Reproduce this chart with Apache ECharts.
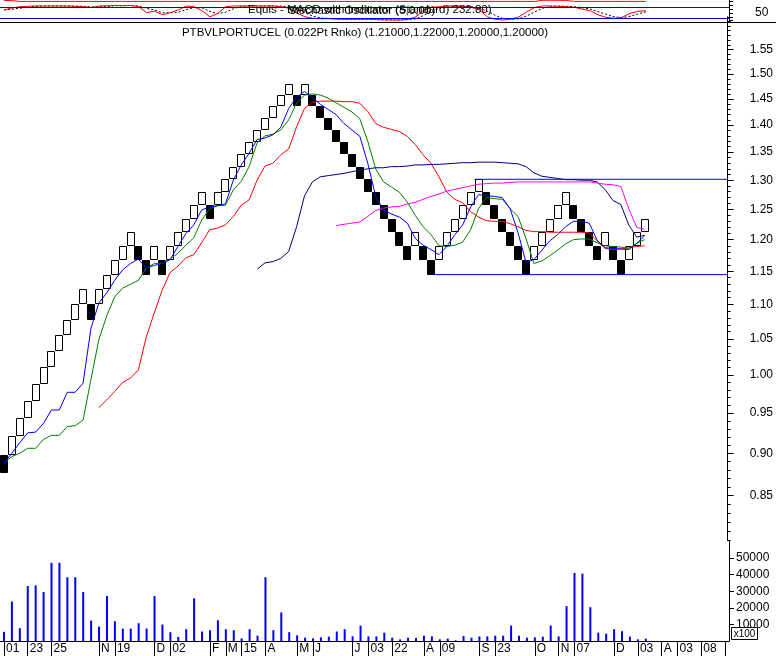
<!DOCTYPE html>
<html><head><meta charset="utf-8">
<script src="https://cdn.jsdelivr.net/npm/echarts@6/dist/echarts.min.js"></script>
<style>html,body{margin:0;padding:0;background:#fff}#c{width:776px;height:656px}</style>
</head><body><div id="c"></div>
<script>
// ---------- data ----------
const brickSize = 0.0224;
const brickLow = [0.876,0.8984,0.9208,0.9432,0.9656,0.988,1.0104,1.0328,1.0552,1.0776,
  1.1,1.0776,1.1,1.1224,1.1448,1.1672,1.1896,1.1672,1.1448,1.1672,
  1.1448,1.1672,1.1896,1.212,1.2344,1.2568,1.2344,1.2568,1.2792,1.3016,
  1.324,1.3464,1.3688,1.3912,1.4136,1.436,1.4584,1.436,1.4584,1.436,
  1.4136,1.3912,1.3688,1.3464,1.324,1.3016,1.2792,1.2568,1.2344,1.212,
  1.1896,1.1672,1.1896,1.1672,1.1448,1.1672,1.1896,1.212,1.2344,1.2568,
  1.2792,1.2568,1.2344,1.212,1.1896,1.1672,1.1448,1.1672,1.1896,1.212,
  1.2344,1.2568,1.2344,1.212,1.1896,1.1672,1.1896,1.1672,1.1448,1.1672,
  1.1896,1.212];
const brickDir = [-1,1,1,1,1,1,1,1,1,1,
  1,-1,1,1,1,1,1,-1,-1,1,
  -1,1,1,1,1,1,-1,1,1,1,
  1,1,1,1,1,1,1,-1,1,-1,
  -1,-1,-1,-1,-1,-1,-1,-1,-1,-1,
  -1,-1,1,-1,-1,1,1,1,1,1,
  1,-1,-1,-1,-1,-1,-1,1,1,1,
  1,1,-1,-1,-1,-1,1,-1,-1,1,
  1,1];
const maBlue = [0.888,0.900,0.913,0.925,0.926,0.937,0.954,0.954,0.977,0.977,
  0.989,1.065,1.102,1.117,1.136,1.152,1.162,1.169,1.155,1.159,
  1.162,1.168,1.189,1.210,1.224,1.249,1.254,1.256,1.259,1.300,
  1.327,1.348,1.373,1.376,1.382,1.396,1.432,1.454,1.465,1.453,
  1.440,1.430,1.420,1.403,1.391,1.379,1.330,1.272,1.249,1.242,
  1.237,1.227,1.202,1.191,1.184,1.176,1.189,1.208,1.224,1.254,
  1.275,1.273,1.272,1.270,1.251,1.211,1.164,1.168,1.183,1.198,
  1.208,1.221,1.230,1.230,1.227,1.199,1.187,1.186,1.185,1.184,
  1.194,1.206];
const maGreen = [0.888,0.896,0.900,0.906,0.906,0.917,0.922,0.922,0.933,0.934,
  0.941,0.994,1.049,1.083,1.111,1.124,1.130,1.136,1.155,1.162,
  1.162,1.169,1.178,1.191,1.203,1.232,1.251,1.256,1.257,1.283,
  1.298,1.324,1.367,1.380,1.383,1.391,1.410,1.442,1.458,1.460,
  1.458,1.452,1.443,1.434,1.425,1.412,1.370,1.320,1.297,1.288,
  1.279,1.262,1.240,1.221,1.208,1.190,1.189,1.191,1.196,1.216,
  1.251,1.270,1.268,1.267,1.251,1.238,1.202,1.162,1.166,1.174,
  1.183,1.193,1.200,1.201,1.201,1.195,1.190,1.189,1.188,1.186,
  1.194,1.200];
const maRed = [null,null,null,null,null,null,null,null,null,null,null,null,
  0.957,0.967,0.978,0.990,0.996,1.007,1.053,1.087,
  1.121,1.148,1.158,1.171,1.176,1.195,1.216,1.219,1.224,1.238,
  1.257,1.266,1.300,1.325,1.330,1.345,1.356,1.397,1.432,1.444,
  1.446,1.446,1.446,1.445,1.445,1.442,1.426,1.403,1.396,1.392,
  1.388,1.379,1.364,1.345,1.330,1.306,1.279,1.267,1.261,1.246,
  1.237,1.231,1.230,1.230,1.226,1.221,1.215,1.213,1.213,1.212,
  1.212,1.212,1.212,1.212,1.211,1.198,1.186,1.184,1.185,1.187,
  1.189,1.190];
const maNavy = [null,null,null,null,null,null,null,null,null,null,
  null,null,null,null,null,null,null,null,null,null,
  null,null,null,null,null,null,null,null,null,null,null,null,
  1.153,1.163,1.165,1.170,1.181,1.221,1.273,1.297,
  1.306,1.308,1.310,1.312,1.315,1.318,1.320,1.322,1.322,1.324,
  1.324,1.325,1.327,1.327,1.328,1.328,1.329,1.330,1.331,1.331,
  1.332,1.332,1.332,1.331,1.330,1.329,1.324,1.313,1.307,1.305,
  1.303,1.301,1.301,1.300,1.300,1.297,1.284,1.265,1.258,1.224,
  1.204,1.207];
const maMagenta = [null,null,null,null,null,null,null,null,null,null,
  null,null,null,null,null,null,null,null,null,null,
  null,null,null,null,null,null,null,null,null,null,
  null,null,null,null,null,null,null,null,null,null,null,null,
  1.223,1.225,1.227,1.229,1.238,1.248,1.252,1.254,
  1.255,1.259,1.262,1.267,1.272,1.276,1.281,1.284,1.287,1.290,
  1.293,1.294,1.295,1.295,1.296,1.297,1.297,1.297,1.297,1.297,
  1.297,1.297,1.297,1.297,1.297,1.295,1.293,1.292,1.289,1.251,
  1.220,1.217];
const resistance = [[59.5, 1.3016], [91.5, 1.3016]];
const support = [[54.4, 1.1448], [91.5, 1.1448]];
const volume = [5500,23800,7700,33100,33500,29500,47100,47100,38400,38400,
  29500,12300,8700,27100,11900,7500,7500,10700,7500,27100,
  9900,5300,2400,7100,25700,5700,6500,12500,7100,6500,
  1600,7100,3200,38400,6500,17200,5300,3400,2000,1600,
  2200,2600,5700,7100,2800,9300,2800,2800,5000,2000,
  1000,2000,1800,3200,2800,1000,1400,400,3000,2000,
  2800,2800,3200,3200,9300,3200,2000,2200,2600,9300,
  2800,21000,41000,40600,20400,5000,4400,7100,5900,2600,
  1000,1400];
const stochK = [66,76,83,85,87,87,87,87,87,85,
  83,78,87,88,90,88,90,83,52,60,
  41,52,66,87,83,62,30,48,83,87,
  87,87,87,87,87,83,74,48,30,22,
  20,20,18,17,17,17,17,15,13,13,
  13,17,30,66,80,83,87,87,83,80,
  66,30,17,13,17,30,57,80,87,87,
  85,83,80,70,62,40,27,22,27,48,
  59,62];
const stochD = [66,70,75,81,85,86,87,87,87,86,
  85,82,83,84,88,89,89,87,75,65,
  51,51,53,68,79,77,58,47,54,73,
  86,87,87,87,87,86,81,68,51,33,
  24,21,19,18,17,17,17,16,15,14,
  13,14,20,38,59,76,83,86,86,83,
  76,59,38,20,16,20,35,56,75,85,
  86,85,83,78,71,57,43,30,25,32,
  45,56];
const macdTop = [116,115,111,111,111,111,111,111,111,111,
  111,111,111,111,111,111,111,111,111,111,
  111,111,111,111,111,111,111,111,111,111,
  111,111,111,111,111,111,111,111,111,111,
  111,111,111,111,111,111,111,111,111,111,
  111,111,111,111,111,111,111,111,111,111,
  111,111,111,111,111,111,111,111,117,117,
  117,116,111,111,111,111,111,111,111,111,
  111,111];
const stochLevels = [20, 80];
const priceTickLabels = [0.85,0.90,0.95,1.00,1.05,1.10,1.15,1.20,1.25,1.30,1.35,1.40,1.45,1.50,1.55];
const volTickLabels = [10000,20000,30000,40000,50000];
const dateTickCols = [0,3,6,12,14,19,21,26,28,30,33,37,39,44,46,49,53,55,60,62,67,70,72,77,80,83,85,88];
const dateLabels = ['01','23','25','N','19','D','02','F','M','15','A','M','J','J','03','22','A','09','S','23','O','N','07','D','03','A','03','08'];
const titleText = 'PTBVLPORTUCEL (0.022Pt Rnko) (1.21000,1.22000,1.20000,1.20000)';
const overlayText1 = 'Equis - MACD with Indicator (Standard) 232.80)';
const overlayText2 = 'Stochastic Oscillator (5,0,00)';

// ---------- chart ----------
const minorTicks = [];
for (let k = 80; k <= 162; k++) minorTicks.push(k / 100);
const pairs = arr => arr.map((v, i) => [i, v]).filter(p => p[1] != null);
const FONT = 'Liberation Sans, Arial, sans-serif';
const XV = { type: 'value', min: -0.5, max: 91.5, show: false, axisLine: { onZero: false } };
const PMIN = 0.8, PMAX = 1.62;

const chart = echarts.init(document.getElementById('c'), null, { renderer: 'canvas', width: 776, height: 656 });
const lineS = (data, color) => ({
  type: 'line', xAxisIndex: 0, yAxisIndex: 0, data: pairs(data), symbol: 'none',
  lineStyle: { color: color, width: 1 }, itemStyle: { color: color }, z: 3, silent: true
});

chart.setOption({
  animation: false,
  backgroundColor: '#ffffff',
  textStyle: { fontFamily: FONT },
  grid: [
    { left: 0, right: 47, top: 16.8, height: 523.9 },
    { left: 0, right: 47, top: 541.4, height: 99.6 },
    { left: 0, right: 47, top: 0, height: 22.5 }
  ],
  xAxis: [
    Object.assign({ gridIndex: 0 }, XV),
    { gridIndex: 1, type: 'value', min: -0.5, max: 91.5, position: 'bottom',
      axisLine: { show: true, onZero: false, lineStyle: { color: '#000', width: 1 } },
      axisTick: { show: true, customValues: dateTickCols.concat([91]), length: 15, inside: false, lineStyle: { color: '#000' } },
      axisLabel: { show: true, customValues: dateTickCols, formatter: v => dateLabels[dateTickCols.indexOf(v)],
        align: 'left', verticalAlign: 'top', margin: 2, padding: [0, 0, 0, 2], color: '#000', fontSize: 12, fontFamily: FONT },
      splitLine: { show: false } },
    Object.assign({ gridIndex: 2 }, XV)
  ],
  yAxis: [
    { gridIndex: 0, type: 'log', logBase: 10, min: PMIN, max: PMAX, position: 'right',
      axisLine: { show: true, onZero: false, lineStyle: { color: '#000', width: 1 } },
      axisTick: { show: true, customValues: priceTickLabels, length: 6, lineStyle: { color: '#000' } },
      axisLabel: { show: true, customValues: priceTickLabels, formatter: v => Number(v).toFixed(2), margin: 22, color: '#000', fontSize: 12, fontFamily: FONT },
      splitLine: { show: false }, minorTick: { show: false } },
    { gridIndex: 0, type: 'log', logBase: 10, min: PMIN, max: PMAX, position: 'right',
      axisLine: { show: false, onZero: false },
      axisTick: { show: true, customValues: minorTicks, length: 3, lineStyle: { color: '#000' } },
      axisLabel: { show: false }, splitLine: { show: false } },
    { gridIndex: 1, type: 'value', min: 0, max: 60000, position: 'right',
      axisLine: { show: true, onZero: false, lineStyle: { color: '#000', width: 1 } },
      axisTick: { show: true, customValues: volTickLabels, length: 5, lineStyle: { color: '#000' } },
      axisLabel: { show: true, customValues: volTickLabels, formatter: v => String(v), margin: 7, color: '#000', fontSize: 12, fontFamily: FONT },
      splitLine: { show: false } },
    { gridIndex: 2, type: 'value', min: 0, max: 118.4, position: 'right',
      axisLine: { show: true, onZero: false, lineStyle: { color: '#000', width: 1 } },
      axisTick: { show: true, customValues: [10, 30, 50, 70, 90, 110], length: 4, lineStyle: { color: '#000' } },
      axisLabel: { show: true, customValues: [50], margin: 26, color: '#000', fontSize: 12, fontFamily: FONT },
      splitLine: { show: false } }
  ],
  series: [
    { type: 'custom', xAxisIndex: 0, yAxisIndex: 0, z: 2, silent: true,
      data: brickLow.map((lo, i) => [i, lo, lo + brickSize, brickDir[i]]),
      renderItem: function (params, api) {
        const i = api.value(0);
        const top = api.coord([i, api.value(2)]);
        const bot = api.coord([i, api.value(1)]);
        const w = api.size([1, 0])[0];
        const x0 = Math.round(top[0] - w / 2);
        const y0 = Math.round(top[1]);
        const y1 = Math.round(bot[1]);
        const black = api.value(3) < 0;
        return { type: 'rect',
          shape: { x: x0 + 0.5, y: y0 + 0.5, width: Math.round(w) - 1, height: y1 - y0 - 1 },
          style: { fill: black ? '#000' : '#fff', stroke: '#000', lineWidth: 1 } };
      } },
    lineS(maRed, '#ff0000'),
    lineS(maGreen, '#008000'),
    lineS(maNavy, '#000080'),
    lineS(maMagenta, '#ff00ff'),
    lineS(maBlue, '#0000ff'),
    { type: 'line', xAxisIndex: 0, yAxisIndex: 0, data: resistance, symbol: 'none', lineStyle: { color: '#0000ff', width: 1 }, z: 3, silent: true },
    { type: 'line', xAxisIndex: 0, yAxisIndex: 0, data: support, symbol: 'none', lineStyle: { color: '#0000ff', width: 1 }, z: 3, silent: true },
    { type: 'bar', xAxisIndex: 1, yAxisIndex: 2, data: pairs(volume), barWidth: 2, itemStyle: { color: '#0000ff' }, silent: true },
    { type: 'line', xAxisIndex: 2, yAxisIndex: 3, data: pairs(macdTop), symbol: 'none', lineStyle: { color: '#ff0000', width: 1 }, silent: true },
    { type: 'line', xAxisIndex: 2, yAxisIndex: 3, data: pairs(stochD), symbol: 'none', lineStyle: { color: '#000', width: 1, type: [2, 2] }, silent: true, z: 3 },
    { type: 'line', xAxisIndex: 2, yAxisIndex: 3, data: pairs(stochK), symbol: 'none', lineStyle: { color: '#ff0000', width: 1 }, silent: true, z: 3,
      markLine: { silent: true, symbol: ['none', 'none'], label: { show: false }, animation: false,
        lineStyle: { color: '#0000ff', width: 1, type: 'solid' },
        data: stochLevels.map(v => ({ yAxis: v })) } }
  ],
  graphic: [
    { type: 'line', shape: { x1: 0, y1: 22.5, x2: 776, y2: 22.5 }, style: { stroke: '#000', lineWidth: 1 }, z: 10 },
    { type: 'text', x: 365, y: 33, style: { text: titleText, fill: '#000', font: '11.5px ' + FONT, align: 'center', verticalAlign: 'middle' }, z: 10 },
    { type: 'text', x: 248, y: 10, style: { text: overlayText1, fill: '#000', font: '11.5px ' + FONT, align: 'left', verticalAlign: 'middle' }, z: 10 },
    { type: 'text', x: 288, y: 11, style: { text: overlayText2, fill: '#000', font: '11.5px ' + FONT, align: 'left', verticalAlign: 'middle' }, z: 10 },
    { type: 'rect', shape: { x: 731.5, y: 627.5, width: 26, height: 12 }, style: { fill: '#fff', stroke: '#000', lineWidth: 1 }, z: 10 },
    { type: 'text', x: 744.5, y: 634, style: { text: 'x100', fill: '#000', font: '10px ' + FONT, align: 'center', verticalAlign: 'middle' }, z: 11 }
  ]
});
</script>
</body></html>
